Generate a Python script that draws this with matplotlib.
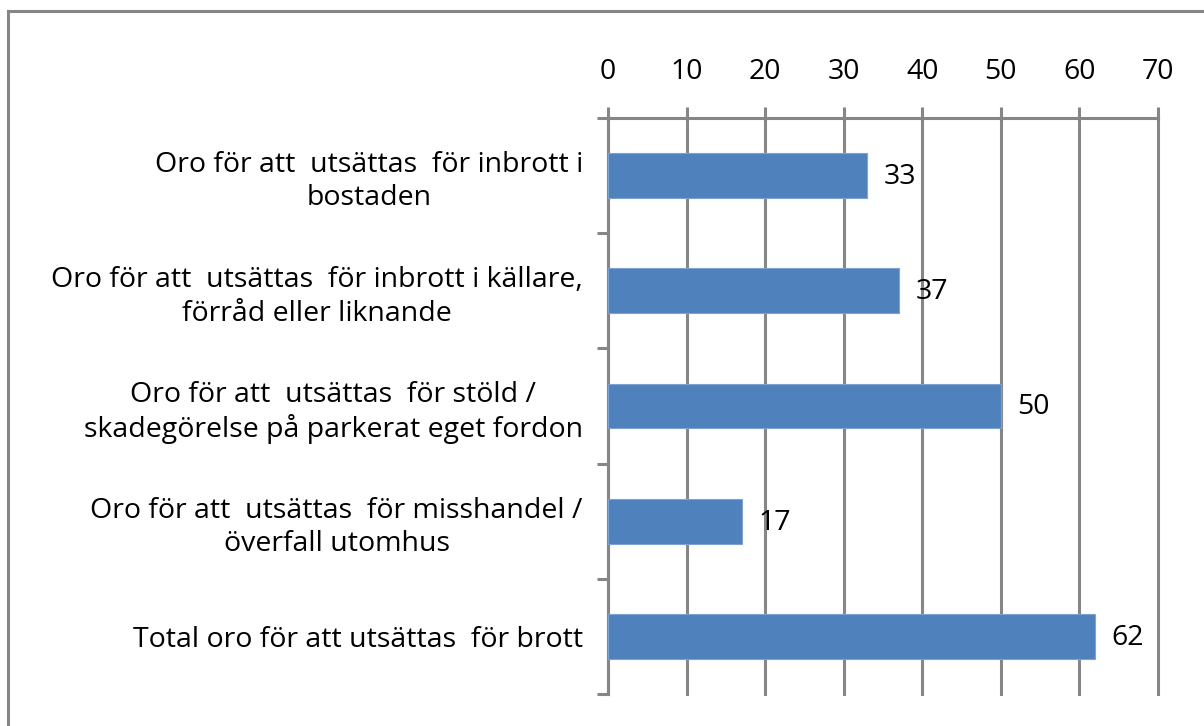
from matplotlib import pyplot as plt
from matplotlib.lines import Line2D
import numpy as np

plt.rcParams['font.family'] = ['Open Sans', 'DejaVu Sans']

categories = [
    "Oro för att  utsättas  för inbrott i\nbostaden",
    "Oro för att  utsättas  för inbrott i källare,\nförråd eller liknande",
    "Oro för att  utsättas  för stöld /\nskadegörelse på parkerat eget fordon",
    "Oro för att  utsättas  för misshandel /\növerfall utomhus",
    "Total oro för att utsättas  för brott",
]
values = [33, 37, 50, 17, 62]
x_ticks = [0, 10, 20, 30, 40, 50, 60, 70]

grey = "#868686"
bar_color = "#4F81BD"
fs = 20.5

fig = plt.figure(figsize=(12.04, 7.26), dpi=100)
ax = fig.add_axes([608 / 1204, 1 - 694 / 726, 550 / 1204, 576 / 726])

y = np.arange(len(categories))
ax.barh(y, values, height=0.39, color=bar_color, edgecolor="#7FA3D0",
        linewidth=0.8, zorder=3)

for yi, v in zip(y, values):
    ax.annotate(str(v), (v, yi), xytext=(12, -1), textcoords="offset points",
                va="center", ha="left", fontsize=fs, zorder=4)

ax.set_xlim(0, 70)
ax.set_ylim(len(categories) - 0.5, -0.5)

ax.xaxis.tick_top()
ax.set_xticks(x_ticks)
ax.set_xticklabels([str(t) for t in x_ticks], fontsize=fs)
ax.tick_params(axis="x", direction="out", length=8, width=2.2, color=grey, pad=15)
ax.grid(axis="x", color=grey, linewidth=2.2, zorder=1)
for gl in ax.get_xgridlines():
    gl.set_clip_on(False)

ax.set_yticks(y)
ax.set_yticklabels(categories, fontsize=fs, multialignment="center", linespacing=1.25)
ax.tick_params(axis="y", which="major", length=0, pad=18)
ax.set_yticks(np.arange(-0.5, len(categories)), minor=True)
ax.tick_params(axis="y", which="minor", length=8, width=2.2, color=grey)

for side in ["right", "bottom"]:
    ax.spines[side].set_visible(False)
for side in ["top", "left"]:
    ax.spines[side].set_color(grey)
    ax.spines[side].set_linewidth(2.2)
    ax.spines[side].set_zorder(2)

# outer chart border (cut off at right and bottom)
fig.add_artist(Line2D([8 / 1204, 1], [1 - 11 / 726, 1 - 11 / 726], color=grey, linewidth=2.2))
fig.add_artist(Line2D([8 / 1204, 8 / 1204], [0, 1 - 11 / 726], color=grey, linewidth=2.2))

fig.savefig("out.png", dpi=100)
